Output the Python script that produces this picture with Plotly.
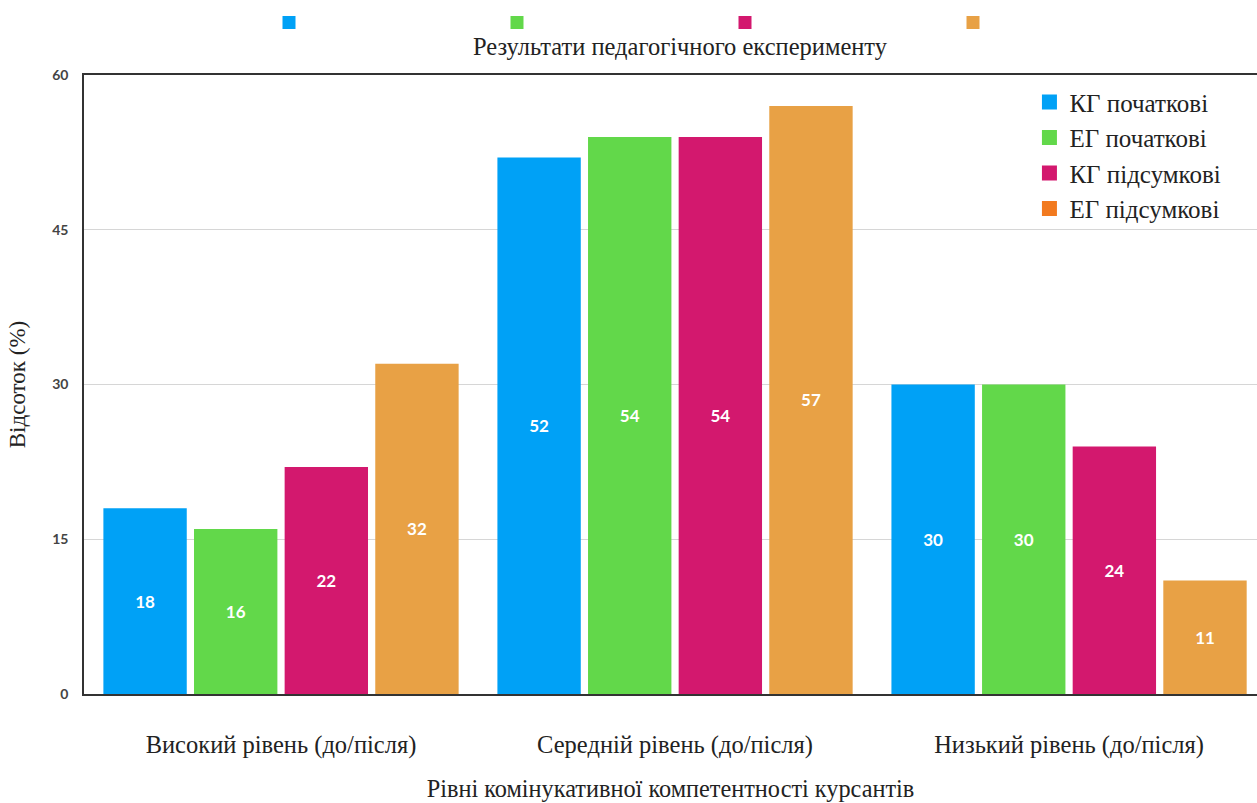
import plotly.graph_objects as go

# Categories and series values (percent of cadets at each level)
categories = ["Високий рівень (до/після)", "Середній рівень (до/після)", "Низький рівень (до/після)"]
series_names = ["КГ початкові", "ЕГ початкові", "КГ підсумкові", "ЕГ підсумкові"]
kg_start = [18, 52, 30]
eg_start = [16, 54, 30]
kg_final = [22, 54, 24]
eg_final = [32, 57, 11]
y_ticks = [0, 15, 30, 45, 60]

bar_colors = ["#00A1F6", "#62D84A", "#D3186E", "#E8A145"]
legend_colors = ["#00A1F6", "#62D84A", "#D3186E", "#F27A1F"]

SERIF = "Liberation Serif"
SANS = "Lato"

fig = go.Figure()

for name, vals, col in zip(series_names, [kg_start, eg_start, kg_final, eg_final], bar_colors):
    fig.add_trace(go.Bar(
        x=categories, y=vals, name=name,
        marker=dict(color=col, line=dict(width=0)),
        text=[str(v) for v in vals],
        textposition="inside", insidetextanchor="middle",
        textfont=dict(family=SANS, size=17, color="white", weight="bold"),
        textangle=0,
        showlegend=False,
    ))

# Legend entries inside the plot (top right)
for name, col in zip(series_names, legend_colors):
    fig.add_trace(go.Scatter(x=[None], y=[None], name=name, mode="markers",
                             marker=dict(color=col, symbol="square", size=15),
                             legend="legend", showlegend=True, hoverinfo="skip"))

# Row of colour swatches above the title
for col in bar_colors:
    fig.add_trace(go.Scatter(x=[None], y=[None], name="", mode="markers",
                             marker=dict(color=col, symbol="square", size=13),
                             legend="legend2", showlegend=True, hoverinfo="skip"))

fig.update_layout(
    width=1257, height=803,
    margin=dict(l=84, r=0, t=75, b=109),
    paper_bgcolor="white", plot_bgcolor="white",
    barmode="group", bargap=0.08, bargroupgap=0.08,
    title=dict(text="Результати педагогічного експерименту",
               font=dict(family=SERIF, size=24.5, color="#222"),
               x=680 / 1257, xanchor="center", xref="container",
               y=1 - 46 / 803, yanchor="middle", yref="container"),
    legend=dict(x=0.806, y=0.993, xanchor="left", yanchor="top",
                font=dict(family=SERIF, size=25, color="#222"),
                bgcolor="rgba(0,0,0,0)", tracegroupgap=0, itemwidth=30,
                traceorder="normal"),
    legend2=dict(orientation="h", xref="container", yref="container",
                 x=(299 - 30) / 1257, y=1 - 8 / 803, xanchor="left", yanchor="top",
                 entrywidth=183, entrywidthmode="pixels",
                 font=dict(family=SERIF, size=12, color="#222"),
                 bgcolor="rgba(0,0,0,0)"),
    xaxis=dict(range=[-0.5, 2.477], showgrid=False,
               showline=True, linecolor="#333", linewidth=1.5, mirror=True,
               ticks="", ticklabelstandoff=28,
               tickfont=dict(family=SERIF, size=24.5, color="#222"),
               title=dict(text="Рівні комінукативної компетентності курсантів",
                          font=dict(family=SERIF, size=24.3, color="#222"), standoff=22),
               fixedrange=True),
    yaxis=dict(range=[0, 60], tickvals=y_ticks, ticktext=[str(t) for t in y_ticks],
               showgrid=True, gridcolor="#D6D6D6", gridwidth=1,
               showline=True, linecolor="#333", linewidth=1.5, mirror=False,
               zeroline=False, ticks="", ticklabelstandoff=11,
               tickfont=dict(family=SANS, size=14, color="#444", weight="bold"),
               title=dict(text="Відсоток (%)",
                          font=dict(family=SERIF, size=23, color="#222"), standoff=20),
               fixedrange=True),
)

fig.write_html("out.html")
